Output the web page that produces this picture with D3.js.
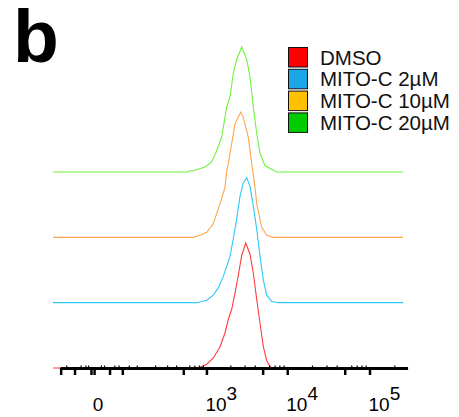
<!DOCTYPE html>
<html><head><meta charset="utf-8">
<script src="https://cdn.jsdelivr.net/npm/d3@7"></script>
<style>
html,body{margin:0;padding:0;background:#fff;}
svg{display:block;font-family:"Liberation Sans",Arial,sans-serif;}
</style></head>
<body>
<svg id="chart" width="459" height="417"></svg>
<script>
// ---- data ----
const seriesNames = ["DMSO", "MITO-C 2µM", "MITO-C 10µM", "MITO-C 20µM"];
const lineColors = ["#ff3b3b", "#2cc8f8", "#ffa54c", "#6ef23e"];
const legendColors = ["#ff0000", "#1ba6e8", "#ffc000", "#00cc00"];
// [fluorescence, % of max]
const dmso = [[-126,0],[775,0],[993,3],[1205,8],[1463,17],[1689,28],[1858,39],[2048,47],[2250,60],[2472,74],[2724,90],[3053,100],[3449,91],[3786,76],[4168,55],[4578,36],[5025,17],[5530,6],[6070,1],[6605,0],[252000,0]];
const mito2 = [[-126,0],[739,0],[993,2],[1205,6],[1393,12],[1609,21],[1775,29],[1950,37],[2143,51],[2361,67],[2595,85],[2851,96],[3141,100],[3449,93],[3786,77],[4168,59],[4578,37],[5025,18],[5530,6],[6370,1],[7605,0],[252000,0]];
const mito10 = [[-126,0],[661,0],[815,1.6],[993,4],[1205,11],[1463,27],[1689,40],[1775,53],[1858,59],[2048,75],[2250,91],[2472,96],[2647,100],[2851,96],[3287,80],[3620,59],[3974,40],[4168,27],[4802,8],[5530,1.6],[6605,0],[252000,0]];
const mito20 = [[-126,0],[560,0],[600,1],[661,1],[944,4],[1150,8],[1330,17],[1536,28],[1775,52],[1950,60],[2143,79],[2361,90],[2724,100],[3141,90],[3449,76],[3786,52],[4168,31],[4578,15],[5270,5],[7325,0],[252000,0]];
const seriesData = [dmso, mito2, mito10, mito20];
const zeroLabel = [0];
const decadeTicks = [1000, 10000, 100000];
const decadeExps = ["3", "4", "5"];
const majorTicks = [-90, -45, -10, -5, 20, 50, 500, 1000, 5000, 10000, 50000, 100000];
const minorTicks = [-70,-30,-20,-15,5,10,30,40,70,100,200,300,400,600,700,800,900,2000,3000,4000,6000,7000,8000,9000,20000,30000,40000,60000,70000,80000,90000,200000];
const axisExtent = [-92, 290000];

// ---- scales ----
const svg = d3.select("#chart");
const x = d3.scaleSymlog().constant(50).domain([0, 100000]).range([98, 370]);
const h = d3.scaleLinear().domain([0, 100]).range([0, 125]);
const base = d3.scaleLinear().domain([0, 3]).range([368, 172]);

// ---- curves (top first so lower ones draw later) ----
const line = d3.line().x(d => x(d[0]));
[3, 2, 1, 0].forEach(i => {
  const b = base(i);
  svg.append("path")
    .attr("d", line.y(d => b - h(d[1]))(seriesData[i]))
    .attr("fill", "none")
    .attr("stroke", lineColors[i])
    .attr("stroke-width", 1.1);
});

// ---- axis ----
const ax = svg.append("g");
ax.append("line")
  .attr("x1", x(axisExtent[0])).attr("x2", x(axisExtent[1]))
  .attr("y1", 368.5).attr("y2", 368.5)
  .attr("stroke", "#000").attr("stroke-width", 3);
ax.selectAll(".maj").data(majorTicks).enter().append("line")
  .attr("x1", d => x(d)).attr("x2", d => x(d))
  .attr("y1", 368).attr("y2", 375)
  .attr("stroke", "#000").attr("stroke-width", 2.5);
ax.selectAll(".min").data(minorTicks).enter().append("line")
  .attr("x1", d => x(d)).attr("x2", d => x(d))
  .attr("y1", 369).attr("y2", 365.5)
  .attr("stroke", "#000").attr("stroke-width", 1.2);

ax.selectAll(".zl").data(zeroLabel).enter().append("text")
  .attr("x", d => x(d)).attr("y", 410.5)
  .attr("text-anchor", "middle")
  .attr("font-size", 19).text("0");
decadeTicks.forEach((v, i) => {
  const t = ax.append("text").attr("x", x(v) - 1.5).attr("y", 410.5)
    .attr("font-size", 19);
  t.append("tspan").text("10");
  t.append("tspan").attr("dy", -10.5).text(decadeExps[i]);
});

// ---- legend ----
const lg = svg.append("g");
seriesNames.forEach((n, i) => {
  const y0 = 47.5 + i * 21.8;
  lg.append("rect").attr("x", 288.5).attr("y", y0).attr("width", 19).attr("height", 19.5)
    .attr("fill", legendColors[i]).attr("stroke", "#111").attr("stroke-width", 1);
  lg.append("text").attr("x", 320).attr("y", y0 + 17)
    .attr("font-size", 20.5).attr("fill", "#111").text(n);
});

// ---- panel letter ----
svg.append("text").attr("x", 13).attr("y", 62)
  .attr("font-size", 75).attr("font-weight", "bold").text("b");
</script>
</body></html>
